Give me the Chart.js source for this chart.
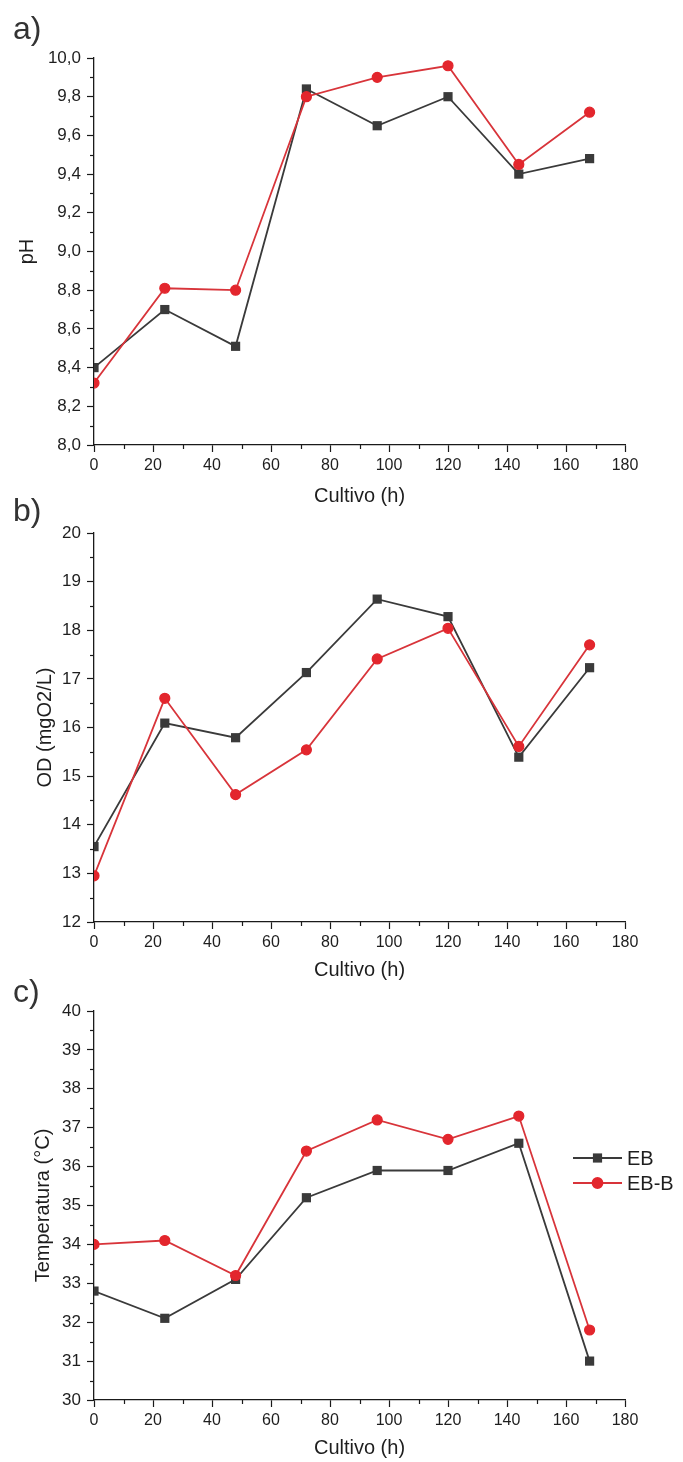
<!DOCTYPE html>
<html>
<head>
<meta charset="utf-8">
<script src="https://cdn.jsdelivr.net/npm/chart.js@4/dist/chart.umd.min.js"></script>
<style>
  html, body { margin: 0; padding: 0; background: #fff; }
  body { width: 683px; height: 1462px; position: relative; overflow: hidden; }
  canvas { position: absolute; left: 0; }
</style>
</head>
<body>
<canvas id="panelA" width="683" height="515" style="top:0px"></canvas>
<canvas id="panelB" width="683" height="495" style="top:490px"></canvas>
<canvas id="panelC" width="683" height="487" style="top:975px"></canvas>
<script>
// Sampling times (hours of culture)
const hours = [0, 24, 48, 72, 96, 120, 144, 168];
const seriesNames = ['EB', 'EB-B'];

// a) pH
const phEB  = [8.40, 8.70, 8.51, 9.84, 9.65, 9.80, 9.40, 9.48];
const phEBB = [8.32, 8.81, 8.80, 9.80, 9.90, 9.96, 9.45, 9.72];

// b) dissolved oxygen (mgO2/L)
const odEB  = [13.55, 16.09, 15.79, 17.13, 18.64, 18.28, 15.39, 17.23];
const odEBB = [12.95, 16.60, 14.62, 15.54, 17.41, 18.04, 15.61, 17.70];

// c) temperature (°C)
const tempEB  = [32.8, 32.1, 33.1, 35.2, 35.9, 35.9, 36.6, 31.0];
const tempEBB = [34.0, 34.1, 33.2, 36.4, 37.2, 36.7, 37.3, 31.8];

// Axis ticks
const xTicks = [0, 20, 40, 60, 80, 100, 120, 140, 160, 180];
const xTickLabels = ['0', '20', '40', '60', '80', '100', '120', '140', '160', '180'];
const phTicks = [8.0, 8.2, 8.4, 8.6, 8.8, 9.0, 9.2, 9.4, 9.6, 9.8, 10.0];
const phTickLabels = ['8,0', '8,2', '8,4', '8,6', '8,8', '9,0', '9,2', '9,4', '9,6', '9,8', '10,0'];
const odTicks = [12, 13, 14, 15, 16, 17, 18, 19, 20];
const odTickLabels = ['12', '13', '14', '15', '16', '17', '18', '19', '20'];
const tempTicks = [30, 31, 32, 33, 34, 35, 36, 37, 38, 39, 40];
const tempTickLabels = ['30', '31', '32', '33', '34', '35', '36', '37', '38', '39', '40'];

const FONT = "'Liberation Sans', Arial, Helvetica, sans-serif";
const INK = '#1e1e1e';
const AXIS = '#1a1a1a';
const DARK = '#3a3a3a';
const RED = '#e3262d';
const RED_LINE = '#d8343a';
const TITLE_SIZE = 20;
const TITLE_LH = TITLE_SIZE * 1.2;

// Half-step ticks between the labelled ones, placed through each scale
const minorTicks = {
  id: 'minorTicks',
  afterDraw(chart) {
    const ctx = chart.ctx;
    const xs = chart.scales.x, ys = chart.scales.y;
    const mids = arr => arr.slice(1).map((v, i) => (v + arr[i]) / 2);
    ctx.save();
    ctx.strokeStyle = AXIS;
    ctx.lineWidth = 1.2;
    mids(xs.ticks.map(t => t.value)).forEach(v => {
      const px = Math.round(xs.getPixelForValue(v)) + 0.5;
      ctx.beginPath();
      ctx.moveTo(px, xs.top);
      ctx.lineTo(px, xs.top + 4);
      ctx.stroke();
    });
    mids(ys.ticks.map(t => t.value)).forEach(v => {
      const py = Math.round(ys.getPixelForValue(v)) + 0.5;
      ctx.beginPath();
      ctx.moveTo(ys.right, py);
      ctx.lineTo(ys.right - 4, py);
      ctx.stroke();
    });
    ctx.restore();
  }
};

// Panel letter in the upper left corner
const panelLabel = {
  id: 'panelLabel',
  afterDraw(chart, args, opts) {
    if (!opts.text) return;
    const ctx = chart.ctx;
    ctx.save();
    ctx.font = '32px ' + FONT;
    ctx.fillStyle = '#333';
    ctx.textAlign = 'left';
    ctx.textBaseline = 'middle';
    ctx.fillText(opts.text, opts.x, opts.y);
    ctx.restore();
  }
};

// Legend with line + marker samples, drawn from the datasets
const lineLegend = {
  id: 'lineLegend',
  afterDraw(chart, args, opts) {
    if (!opts.show) return;
    const ctx = chart.ctx;
    ctx.save();
    chart.data.datasets.forEach((ds, i) => {
      const y = opts.y + i * opts.rowGap;
      ctx.strokeStyle = ds.borderColor;
      ctx.lineWidth = ds.borderWidth;
      ctx.beginPath();
      ctx.moveTo(opts.x, y);
      ctx.lineTo(opts.x + opts.lineLen, y);
      ctx.stroke();
      ctx.fillStyle = ds.pointBackgroundColor;
      ctx.strokeStyle = ds.pointBorderColor;
      Chart.helpers.drawPoint(ctx, {
        pointStyle: ds.pointStyle, radius: ds.pointRadius, rotation: 0,
        borderWidth: ds.pointBorderWidth
      }, opts.x + opts.lineLen / 2, y);
      ctx.fillStyle = INK;
      ctx.font = '20px ' + FONT;
      ctx.textAlign = 'left';
      ctx.textBaseline = 'middle';
      ctx.fillText(ds.label, opts.x + opts.lineLen + 5, y + 1);
    });
    ctx.restore();
  }
};

function makeDatasets(ebValues, ebbValues) {
  return [
    {
      label: seriesNames[0],
      data: hours.map((h, i) => ({ x: h, y: ebValues[i] })),
      borderColor: DARK, borderWidth: 1.8,
      pointStyle: 'rect', pointRadius: 6.5, pointBorderWidth: 0,
      pointBackgroundColor: DARK, pointBorderColor: DARK,
      order: 1
    },
    {
      label: seriesNames[1],
      data: hours.map((h, i) => ({ x: h, y: ebbValues[i] })),
      borderColor: RED_LINE, borderWidth: 1.8,
      pointStyle: 'circle', pointRadius: 5, pointBorderWidth: 1.2,
      pointBackgroundColor: RED, pointBorderColor: RED,
      order: 0
    }
  ];
}

function buildPanel(id, p) {
  const canvas = document.getElementById(id);
  const H = canvas.height;
  const axisLeft = 94, axisRight = 625;
  const xTitleBottom = p.xTitleY + TITLE_LH / 2;
  const xAxisHeight = xTitleBottom - p.areaBottom;
  const xTickFont = { family: FONT, size: 16 };
  const yTickFont = { family: FONT, size: 17 };
  const titleFont = { family: FONT, size: TITLE_SIZE };

  return new Chart(canvas, {
    type: 'line',
    data: { datasets: makeDatasets(p.eb, p.ebb) },
    options: {
      responsive: false,
      animation: false,
      events: [],
      layout: { padding: { left: 0, right: 683 - axisRight, top: p.areaTop, bottom: H - xTitleBottom } },
      plugins: {
        legend: { display: false },
        tooltip: { enabled: false },
        panelLabel: { text: p.label, x: 13, y: p.labelY },
        lineLegend: p.legend || { show: false }
      },
      elements: { line: { tension: 0 } },
      scales: {
        x: {
          type: 'linear',
          min: xTicks[0], max: xTicks[xTicks.length - 1],
          afterBuildTicks: s => { s.ticks = xTicks.map(v => ({ value: v })); },
          afterFit: s => { s.height = xAxisHeight; },
          ticks: {
            autoSkip: false, maxRotation: 0, padding: 4, color: INK, font: xTickFont,
            callback: (v, i) => xTickLabels[i]
          },
          grid: { display: true, drawOnChartArea: false, drawTicks: true, tickLength: 7, tickColor: AXIS, tickWidth: 1.2 },
          border: { display: true, color: AXIS, width: 1.3 },
          title: { display: true, text: 'Cultivo (h)', color: INK, font: titleFont, padding: 0 }
        },
        y: {
          type: 'linear',
          min: p.yTicks[0], max: p.yTicks[p.yTicks.length - 1],
          afterBuildTicks: s => { s.ticks = p.yTicks.map(v => ({ value: v })); },
          afterFit: s => { s.width = axisLeft; },
          ticks: {
            autoSkip: false, padding: 6, color: INK, font: yTickFont,
            callback: (v, i) => p.yTickLabels[i]
          },
          grid: { display: true, drawOnChartArea: false, drawTicks: true, tickLength: 7, tickColor: AXIS, tickWidth: 1.2 },
          border: { display: true, color: AXIS, width: 1.3 },
          title: {
            display: true, text: p.yTitle, color: INK, font: titleFont,
            padding: { top: p.yTitleX - TITLE_LH / 2, bottom: 0 }
          }
        }
      }
    },
    plugins: [minorTicks, panelLabel, lineLegend]
  });
}

buildPanel('panelA', {
  eb: phEB, ebb: phEBB, yTicks: phTicks, yTickLabels: phTickLabels,
  yTitle: 'pH', yTitleX: 27, label: 'a)', labelY: 30,
  areaTop: 58, areaBottom: 445, xTitleY: 496
});

buildPanel('panelB', {
  eb: odEB, ebb: odEBB, yTicks: odTicks, yTickLabels: odTickLabels,
  yTitle: 'OD (mgO2/L)', yTitleX: 45, label: 'b)', labelY: 22,
  areaTop: 43, areaBottom: 432, xTitleY: 480
});

buildPanel('panelC', {
  eb: tempEB, ebb: tempEBB, yTicks: tempTicks, yTickLabels: tempTickLabels,
  yTitle: 'Temperatura (°C)', yTitleX: 43, label: 'c)', labelY: 18,
  areaTop: 36, areaBottom: 425, xTitleY: 473,
  legend: { show: true, x: 573, y: 183, rowGap: 25, lineLen: 49 }
});
</script>
</body>
</html>
